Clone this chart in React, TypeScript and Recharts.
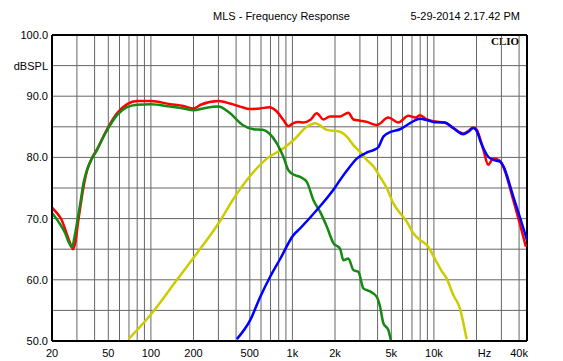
import React from 'react';
import { LineChart, Line, XAxis, YAxis, CartesianGrid, ReferenceLine } from 'recharts';

// [frequency Hz, dBSPL]
const totalPts = [
  [20, 71.8], [21.5, 71.0], [23.5, 69.7], [25, 68.0], [27.3, 65.6], [28.1, 65.0], [29.3, 66.2], [30.4, 69.0],
  [32, 72.5], [33.8, 75.8], [35.5, 78.0], [38.3, 79.9], [41.6, 81.3], [46.3, 83.5], [50.4, 85.1], [57.6, 87.2],
  [68, 88.7], [80, 89.2], [100, 89.2], [137, 88.7], [170, 88.4], [200, 88.0], [225, 88.6], [300, 89.2],
  [363, 88.8], [427, 88.3], [503, 87.9], [592, 88.0], [687, 88.2], [776, 87.5], [864, 86.1], [937, 85.1],
  [1017, 85.6], [1100, 85.8], [1196, 85.7], [1334, 86.1], [1488, 87.2], [1656, 86.2], [1840, 86.7], [2172, 86.7],
  [2486, 87.3], [2698, 86.2], [3008, 86.0], [3355, 85.8], [3948, 85.3], [4766, 86.5], [5607, 85.7], [6598, 86.8],
  [7400, 86.5], [7980, 86.9], [8898, 86.2], [9908, 85.9], [11900, 85.7], [13700, 84.8], [16100, 83.9], [17500, 84.3],
  [19000, 84.9], [20000, 84.6], [22400, 81.2], [24200, 78.8], [26300, 79.8], [28600, 79.6], [30900, 78.5],
  [36400, 73.0], [44700, 65.4],
];

const wooferPts = [
  [20, 70.9], [22.2, 69.5], [24.8, 67.6], [26.2, 66.2], [27.7, 65.3], [29, 67.3], [30, 69.2], [31.7, 72.5],
  [33.4, 75.8], [35.3, 77.9], [38.3, 79.8], [41.6, 81.2], [46.3, 83.4], [50.4, 84.9], [57.6, 86.9], [67.8, 88.2],
  [80, 88.6], [100, 88.7], [137, 88.3], [170, 88.0], [200, 87.7], [234, 88.0], [300, 88.3], [363, 87.2],
  [445, 85.3], [530, 84.6], [617, 84.5], [687, 83.9], [776, 82.3], [864, 80.1], [937, 77.9], [1042, 77.1],
  [1134, 76.8], [1264, 76.0], [1408, 73.0], [1570, 71.1], [1750, 68.7], [1948, 66.0], [2172, 65.1], [2292, 63.2],
  [2486, 63.5], [2698, 61.6], [2926, 61.3], [3175, 58.6], [3540, 58.1], [3948, 57.2], [4165, 55.6], [4395, 52.9],
  [4766, 51.8], [4956, 50.2], [5050, 49.5],
];

const midPts = [
  [69.5, 50.3], [98.9, 54.2], [152.7, 60.0], [211, 64.3], [300, 69.2], [383, 73.2], [477, 76.3], [660, 79.8],
  [864, 81.5], [1017, 82.8], [1264, 85.0], [1447, 85.6], [1750, 84.5], [2172, 84.2], [2422, 83.4], [2698, 82.0],
  [3008, 80.9], [3355, 79.6], [3745, 78.5], [4165, 76.8], [4644, 75.0], [5170, 72.5], [5764, 70.9], [6430, 69.5],
  [7157, 67.6], [7980, 66.5], [8898, 65.7], [10186, 63.4], [11300, 61.5], [12318, 60.2], [13716, 57.5],
  [15292, 55.3], [16300, 52.5], [17052, 50.3],
];

const tweeterPts = [
  [405, 50.3], [503, 53.4], [592, 57.2], [696, 60.5], [819, 63.4], [1017, 67.3], [1134, 68.4], [1488, 71.4],
  [1948, 74.7], [2172, 76.3], [2422, 77.8], [2851, 79.8], [3355, 80.8], [3745, 81.2], [4060, 81.7], [4395, 83.4],
  [5000, 84.2], [5764, 84.6], [6783, 85.6], [7980, 86.3], [8898, 86.1], [9908, 85.8], [11900, 85.7], [13700, 84.8],
  [16100, 83.8], [17500, 84.2], [19000, 84.8], [20000, 84.4], [21600, 82.3], [24200, 80.1], [26300, 79.6],
  [29500, 79.3], [30900, 78.6], [36400, 73.6], [44000, 67.6], [45500, 66.5],
];

const freqTicks = [
  20, 30, 40, 50, 60, 70, 80, 90, 100, 200, 300, 400, 500, 600, 700, 800, 900,
  1000, 2000, 3000, 4000, 5000, 6000, 7000, 8000, 9000, 10000, 20000, 30000, 40000,
];
const freqLabels: Record<number, string> = {
  20: '20', 50: '50', 100: '100', 200: '200', 500: '500', 1000: '1k', 2000: '2k',
  5000: '5k', 10000: '10k', 20000: 'Hz', 40000: '40k',
};
const dbTicks = [50, 55, 60, 65, 70, 75, 80, 85, 90, 95, 100];
const dbMinorTicks = [
  51, 52, 53, 54, 56, 57, 58, 59, 61, 62, 63, 64, 66, 67, 68, 69, 71, 72, 73, 74,
  76, 77, 78, 79, 81, 82, 83, 84, 86, 87, 88, 89, 91, 92, 93, 94, 96, 97, 98, 99,
];

const toRows = (pts: number[][]) => pts.map(([f, db]) => ({ f, db }));

const font = 'Arial, "Liberation Sans", sans-serif';

const FreqTick = (props: any) => {
  const { x, y, payload } = props;
  const label = freqLabels[payload.value];
  if (!label) return null;
  return (
    <text x={label === 'Hz' ? x + 8 : x} y={y} dy="0.71em" textAnchor="middle" fontSize={11} fontFamily={font} fill="#000">
      {label}
    </text>
  );
};

const DbTick = (props: any) => {
  const { x, y, payload } = props;
  const v = payload.value;
  let label = '';
  if (v % 10 === 0) label = v.toFixed(1);
  else if (v === 95) label = 'dBSPL';
  if (!label) return null;
  return (
    <text x={x} y={y} dy="0.355em" textAnchor="end" fontSize={11} fontFamily={font} fill="#000">
      {label}
    </text>
  );
};

export default function App() {
  return (
    <div style={{ position: 'absolute', left: 0, top: 0, width: 563, height: 361, background: '#fff', fontFamily: font }}>
      <div style={{ position: 'absolute', left: 0, width: 553, top: 10, fontSize: 11 }}>
        <span style={{ position: 'absolute', left: 213 }}>MLS - Frequency Response</span>
        <span style={{ position: 'absolute', right: 33 }}>5-29-2014 2.17.42 PM</span>
      </div>
      <div style={{ position: 'absolute', left: 491, top: 35, fontSize: 11, fontWeight: 'bold', fontFamily: '"Liberation Serif", "DejaVu Serif", serif' }}>
        CLIO
      </div>
      <div style={{ position: 'absolute', left: 0, top: 0 }}>
        <LineChart width={563} height={361} margin={{ top: 35, right: 36, bottom: 0, left: 0 }}>
          <CartesianGrid stroke="#666" strokeWidth={1} />
          <XAxis
            dataKey="f"
            type="number"
            scale="log"
            domain={[20, 45500]}
            allowDataOverflow
            ticks={freqTicks}
            interval={0}
            height={20}
            tickSize={0}
            tickMargin={8}
            tick={<FreqTick />}
            axisLine={{ stroke: '#000', strokeWidth: 2 }}
          />
          <YAxis
            type="number"
            domain={[50, 100]}
            allowDataOverflow
            ticks={dbTicks}
            interval={0}
            width={52}
            tickSize={0}
            tickMargin={4}
            tick={<DbTick />}
            axisLine={{ stroke: '#000', strokeWidth: 2 }}
          />
          <YAxis
            yAxisId="minorLeft"
            orientation="left"
            mirror
            type="number"
            domain={[50, 100]}
            ticks={dbMinorTicks}
            interval={0}
            tick={false}
            tickSize={3}
            tickLine={{ stroke: '#777' }}
            axisLine={false}
          />
          <YAxis
            yAxisId="minorRight"
            orientation="right"
            mirror
            type="number"
            domain={[50, 100]}
            ticks={dbMinorTicks}
            interval={0}
            tick={false}
            tickSize={3}
            tickLine={{ stroke: '#777' }}
            axisLine={false}
          />
          <ReferenceLine y={100} stroke="#000" strokeWidth={2} />
          <ReferenceLine x={45500} stroke="#000" strokeWidth={2} />
          <Line data={toRows(totalPts)} dataKey="db" type="monotone" stroke="#ff0000" strokeWidth={2.5} dot={false} isAnimationActive={false} />
          <Line data={toRows(midPts)} dataKey="db" type="monotone" stroke="#cccc00" strokeWidth={2.5} dot={false} isAnimationActive={false} />
          <Line data={toRows(wooferPts)} dataKey="db" type="monotone" stroke="#148a14" strokeWidth={2.5} dot={false} isAnimationActive={false} />
          <Line data={toRows(tweeterPts)} dataKey="db" type="monotone" stroke="#0000ff" strokeWidth={2.5} dot={false} isAnimationActive={false} />
        </LineChart>
      </div>
    </div>
  );
}
